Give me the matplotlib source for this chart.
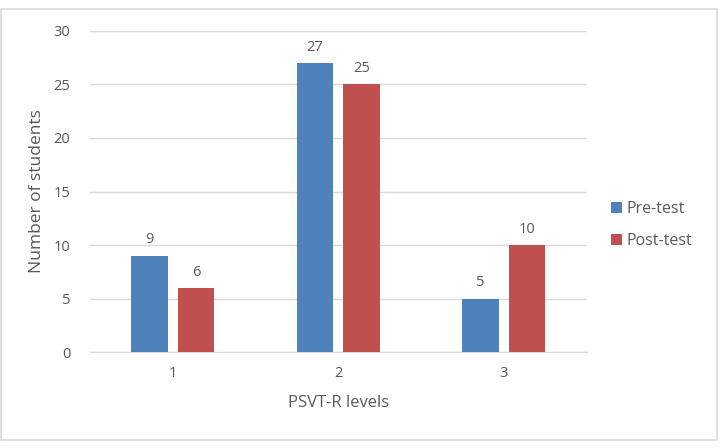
import numpy as np
import matplotlib.pyplot as plt
from matplotlib.patches import Rectangle

# 数据
levels = ['1', '2', '3']
pre_test = [9, 27, 5]
post_test = [6, 25, 10]
series_names = ['Pre-test', 'Post-test']

plt.rcParams['font.family'] = ['Open Sans', 'DejaVu Sans']
text_color = '#595959'

fig = plt.figure(figsize=(7.19, 4.48), dpi=100)
ax = fig.add_axes([0.125, 0.214, 0.691, 0.717])

# 图表外框
fig.patches.append(Rectangle((0.001, 0.018), 0.996, 0.962, transform=fig.transFigure,
                             fill=False, edgecolor='#d9d9d9', linewidth=1.2))

x = np.arange(len(levels))
width = 0.22
b1 = ax.bar(x - 0.14, pre_test, width, color='#4F81BD', label=series_names[0], zorder=3)
b2 = ax.bar(x + 0.14, post_test, width, color='#C0504D', label=series_names[1], zorder=3)

# 数值标签
for bars in [b1, b2]:
    for bar in bars:
        ax.annotate(str(int(bar.get_height())),
                    (bar.get_x() + bar.get_width() / 2, bar.get_height()),
                    xytext=(0, 6), textcoords='offset points', ha='center', va='bottom',
                    fontsize=10.5, color=text_color)

ax.set_xlim(-0.5, 2.5)
ax.set_ylim(0, 30)
ax.set_yticks(range(0, 31, 5))
ax.set_xticks(x)
ax.set_xticklabels(levels)
ax.yaxis.grid(True, color='#d9d9d9', linewidth=1, zorder=0)
for s in ['top', 'right', 'left']:
    ax.spines[s].set_visible(False)
ax.spines['bottom'].set_color('#d9d9d9')
ax.tick_params(length=0, colors=text_color, labelsize=10.5, pad=10)
ax.tick_params(axis='y', pad=14)

ax.set_xlabel('PSVT-R levels', fontsize=12, color=text_color, labelpad=10)
ax.set_ylabel('Number of students', fontsize=12.5, color=text_color, labelpad=6)

ax.legend(loc='center left', bbox_to_anchor=(1.02, 0.395), frameon=False,
          fontsize=11.5, labelcolor=text_color, handlelength=0.7, handleheight=0.7,
          handletextpad=0.3, labelspacing=1.0)

fig.savefig('out.png', dpi=100)
